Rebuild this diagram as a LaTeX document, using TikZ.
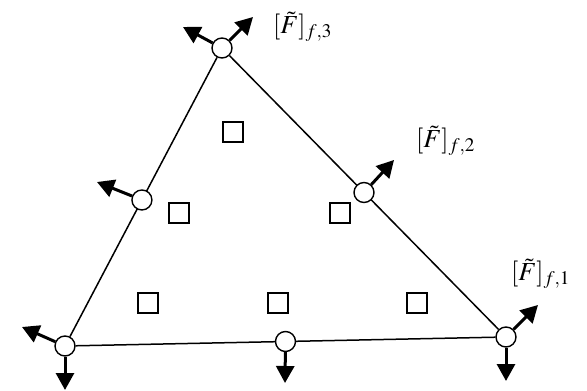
\documentclass[tikz,border=0pt]{standalone}
\usepackage{mathptmx}
\usetikzlibrary{arrows.meta,backgrounds,calc}
\tikzset{
  pt/.style={circle,draw,fill=white,line width=1.4pt,minimum size=20pt,inner sep=0pt},
  cell/.style={rectangle,draw,line width=1.6pt,minimum size=20pt,inner sep=0pt},
  edge/.style={line width=1.5pt},
  flux/.style={line width=3pt,-{Triangle[length=17pt,width=18pt]}},
  lab/.style={anchor=west,inner sep=0pt,font=\fontsize{26}{28}\selectfont}
}
\begin{document}
\begin{tikzpicture}[x=1pt,y=-1pt]
\useasboundingbox (0,0) rectangle (587,391);
% vertices
\node[pt] (A) at (222,48) {};
\node[pt] (B) at (506,337) {};
\node[pt] (C) at (65,346) {};
% edge points
\node[pt] (AB) at ($(A)!0.5!(B)$) {};
\node[pt] (AC) at ($(C)!0.49!(A)$) {};
\node[pt] (BC) at ($(C)!0.5!(B)$) {};
\begin{pgfonlayer}{background}
\draw[edge] (A) -- (B);
\draw[edge] (B) -- (C);
\draw[edge] (C) -- (A);
\end{pgfonlayer}
% cells
\node[cell] (s1) at (233,132) {};
\node[cell] (s2) at (179,213) {};
\node[cell] (s3) at (340,213) {};
\node[cell] (s4) at (148,303) {};
\node[cell] (s5) at (278,303) {};
\node[cell] (s6) at (417,303) {};
% arrow ends
\coordinate (tAl) at (183,27);
\coordinate (tAr) at (253,17);
\coordinate (tAB) at (394,160);
\coordinate (tBu) at (538,305);
\coordinate (tBd) at (506,381);
\coordinate (tBC) at (285,383);
\coordinate (tCl) at (22,327);
\coordinate (tCd) at (65,390);
\coordinate (tAC) at (97,182);
\draw[flux] (A) -- (tAl);
\draw[flux] (A) -- (tAr);
\draw[flux] (AB) -- (tAB);
\draw[flux] (B) -- (tBu);
\draw[flux] (B) -- (tBd);
\draw[flux] (BC) -- (tBC);
\draw[flux] (C) -- (tCl);
\draw[flux] (C) -- (tCd);
\draw[flux] (AC) -- (tAC);
% labels
\node[lab] (L3) at (273,27) {$[\tilde{F}]_{f,3}$};
\node[lab] (L2) at (416,141) {$[\tilde{F}]_{f,2}$};
\node[lab] (L1) at (511,274) {$[\tilde{F}]_{f,1}$};
\end{tikzpicture}
\end{document}
